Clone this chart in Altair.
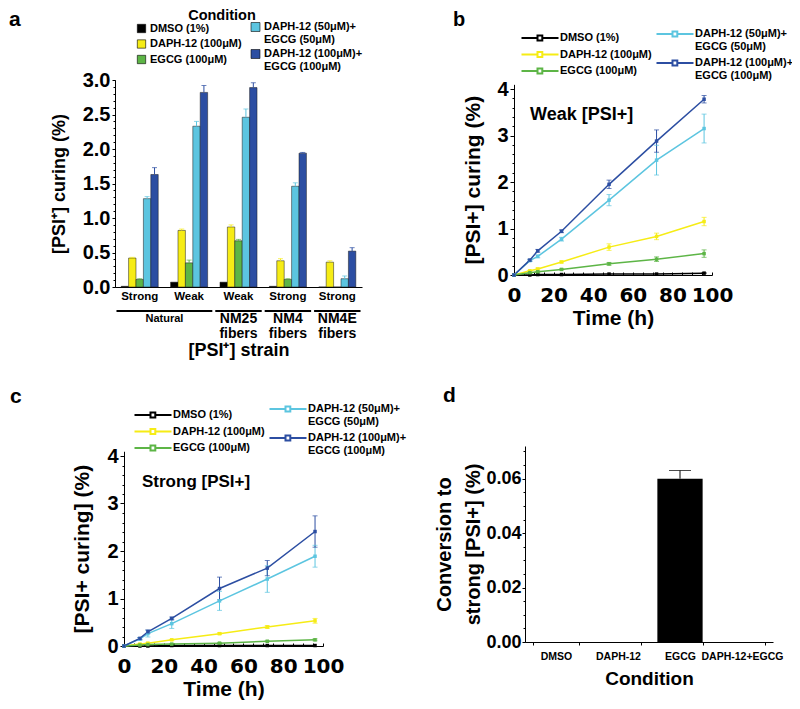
import altair as alt
import pandas as pd

W, H = 784, 688
OX, OY = 8, 13


def px(v):
    return v - OX


def py(v):
    return v - OY


SANS = "Liberation Sans"
WIDE = "DejaVu Sans"

# ---------------- shared conditions ----------------
conds = ["DMSO (1%)", "DAPH-12 (100μM)", "EGCG (100μM)",
         "DAPH-12 (50μM)+\nEGCG (50μM)", "DAPH-12 (100μM)+\n EGCG (100μM)"]
cond_colors = ["#000000", "#f6ec15", "#5db546", "#5cc5e0", "#2c4ea2"]

# ---------------- panel a ----------------
a_groups = ["Natural", "Natural", "NM25\nfibers", "NM4\nfibers", "NM4E\nfibers"]
a_strains = ["Strong", "Weak", "Weak", "Strong", "Strong"]
a_dmso = [0.01, 0.07, 0.07, 0.01, 0.0]
a_daph = [0.42, 0.82, 0.87, 0.38, 0.36]
a_egcg = [0.11, 0.35, 0.67, 0.11, 0.0]
a_mix50 = [1.28, 2.33, 2.46, 1.46, 0.12]
a_mix100 = [1.63, 2.82, 2.89, 1.94, 0.52]
a_dmso_err = [0.0, 0.0, 0.0, 0.0, 0.0]
a_daph_err = [0.01, 0.02, 0.03, 0.03, 0.02]
a_egcg_err = [0.01, 0.04, 0.02, 0.01, 0.0]
a_mix50_err = [0.03, 0.07, 0.12, 0.05, 0.04]
a_mix100_err = [0.10, 0.10, 0.07, 0.01, 0.05]

# ---------------- panels b, c ----------------
times = [0, 8, 12, 24, 48, 72, 96]
b_dmso = [0, 0.0, 0.01, 0.01, 0.02, 0.02, 0.04]
b_daph = [0, 0.09, 0.13, 0.28, 0.60, 0.83, 1.15]
b_egcg = [0, 0.05, 0.07, 0.12, 0.24, 0.34, 0.46]
b_mix50 = [0, 0.31, 0.40, 0.77, 1.61, 2.47, 3.15]
b_mix100 = [0, 0.32, 0.52, 0.94, 1.95, 2.88, 3.78]
b_dmso_err = [0, 0, 0, 0, 0, 0, 0.01]
b_daph_err = [0, 0.01, 0.02, 0.02, 0.07, 0.07, 0.09]
b_egcg_err = [0, 0.01, 0.01, 0.01, 0.03, 0.05, 0.08]
b_mix50_err = [0, 0.02, 0.03, 0.04, 0.12, 0.32, 0.31]
b_mix100_err = [0, 0.02, 0.03, 0.03, 0.09, 0.24, 0.08]

c_dmso = [0, 0.0, 0.0, 0.01, 0.01, 0.01, 0.01]
c_daph = [0, 0.04, 0.06, 0.13, 0.26, 0.40, 0.53]
c_egcg = [0, 0.02, 0.03, 0.04, 0.06, 0.10, 0.13]
c_mix50 = [0, 0.15, 0.26, 0.47, 0.95, 1.41, 1.89]
c_mix100 = [0, 0.16, 0.30, 0.58, 1.21, 1.64, 2.41]
c_dmso_err = [0, 0, 0, 0, 0, 0, 0]
c_daph_err = [0, 0.01, 0.01, 0.01, 0.02, 0.03, 0.05]
c_egcg_err = [0, 0, 0, 0.01, 0.01, 0.01, 0.02]
c_mix50_err = [0, 0.03, 0.07, 0.10, 0.20, 0.28, 0.23]
c_mix100_err = [0, 0.02, 0.04, 0.03, 0.24, 0.16, 0.33]

# ---------------- panel d ----------------
d_conds = ["DMSO", "DAPH-12", "EGCG", "DAPH-12+EGCG"]
d_vals = [0.0, 0.0, 0.060, 0.0]
d_errs = [0.0, 0.0, 0.003, 0.0]

# ================= tables =================
a_keys = [f"{i}|{s}" for i, s in enumerate(a_strains)]
a_series = [a_dmso, a_daph, a_egcg, a_mix50, a_mix100]
a_err_series = [a_dmso_err, a_daph_err, a_egcg_err, a_mix50_err, a_mix100_err]
rows = []
for j, c in enumerate(conds):
    for i, k in enumerate(a_keys):
        rows.append(dict(key=k, cond=c, val=a_series[j][i], err=a_err_series[j][i]))
df_a = pd.DataFrame(rows)
df_a["hi"] = df_a["val"] + df_a["err"]

grp_rows = []
for i, g in enumerate(a_groups):
    if grp_rows and grp_rows[-1]["group"] == g:
        grp_rows[-1]["end"] = i + 1
    else:
        grp_rows.append(dict(group=g, start=i, end=i + 1))
df_g = pd.DataFrame(grp_rows)
df_g["mid"] = (df_g["start"] + df_g["end"]) / 2
df_g["small"] = ["\n" not in g for g in df_g["group"]]


def time_df(series, errs):
    rr = []
    for j, c in enumerate(conds):
        for i, t in enumerate(times):
            rr.append(dict(t=t, cond=c, val=series[j][i], err=errs[j][i]))
    df = pd.DataFrame(rr)
    df["lo"] = df["val"] - df["err"]
    df["hi"] = df["val"] + df["err"]
    return df


df_b = time_df([b_dmso, b_daph, b_egcg, b_mix50, b_mix100],
               [b_dmso_err, b_daph_err, b_egcg_err, b_mix50_err, b_mix100_err])
df_c = time_df([c_dmso, c_daph, c_egcg, c_mix50, c_mix100],
               [c_dmso_err, c_daph_err, c_egcg_err, c_mix50_err, c_mix100_err])

df_d = pd.DataFrame(dict(cond=d_conds, val=d_vals, err=d_errs))
df_d["hi"] = df_d["val"] + df_d["err"]

# ================= panel a =================
A_X = alt.Scale(domain=a_keys, range=[px(115), px(362)], paddingInner=0.25, paddingOuter=0.125)
A_XO = alt.Scale(domain=conds, paddingInner=0, paddingOuter=0)
A_Y = alt.Scale(domain=[0, 3], range=[py(287), py(80)], nice=False)
A_G = alt.Scale(domain=[0, len(a_keys)], range=[px(115), px(362)], nice=False, zero=False)


def colscale():
    return alt.Scale(domain=conds, range=cond_colors)


a_xaxis = alt.Axis(orient="bottom", offset=py(287) - H, labelExpr="split(datum.label, '|')[1]",
                   labelAngle=0, labelFont=SANS, labelFontSize=11.5, labelFontWeight="bold",
                   labelPadding=3, ticks=False, title="[PSI⁺] strain", titleFont=SANS,
                   titleFontSize=18, titleFontWeight="bold", titlePadding=40)
a_yaxis = alt.Axis(orient="left", offset=-px(115), values=[0, 0.5, 1, 1.5, 2, 2.5, 3], format=".1f",
                   labelFont=SANS, labelFontSize=20, labelFontWeight="bold", tickSize=3,
                   labelPadding=2, title="[PSI⁺] curing (%)", titleFont=SANS, titleFontSize=18,
                   titleFontWeight="bold", titlePadding=14)
a_yminor = alt.Axis(orient="left", offset=-px(115), values=[round(0.1 * i, 1) for i in range(31)],
                    labels=False, tickSize=2, domain=False, title=None)

leg_a1 = alt.Legend(orient="none", legendX=px(136), legendY=py(23), title=None, values=conds[:3],
                    symbolType="square", symbolSize=70, symbolStrokeColor="black", symbolStrokeWidth=0.6,
                    labelFont=SANS, labelFontSize=11, labelFontWeight="bold", labelColor="black",
                    labelOffset=3, rowPadding=3.5, padding=0)
leg_a2 = alt.Legend(orient="none", legendX=px(250), legendY=py(21.5), title=None, values=conds[3:],
                    symbolType="square", symbolSize=80, symbolStrokeColor="black", symbolStrokeWidth=0.6,
                    labelFont=SANS, labelFontSize=11, labelFontWeight="bold", labelColor="black",
                    labelOffset=3, rowPadding=2, padding=0, labelExpr="split(datum.label, '\\n')")


def a_bars(sel, legend, xaxis, yaxis):
    return alt.Chart(df_a).transform_filter(
        alt.FieldOneOfPredicate(field="cond", oneOf=sel)
    ).mark_bar(stroke="#1a1a1a", strokeWidth=0.5).encode(
        x=alt.X("key:N", scale=A_X, axis=xaxis),
        xOffset=alt.XOffset("cond:N", scale=A_XO),
        y=alt.Y("val:Q", scale=A_Y, axis=yaxis),
        color=alt.Color("cond:N", scale=colscale(), legend=legend),
    )


a_bar1 = a_bars(conds[:3], leg_a1, a_xaxis, a_yaxis)
a_bar2 = a_bars(conds[3:], leg_a2, None, None)

a_err = alt.Chart(df_a).transform_filter("datum.err > 0").mark_rule(strokeWidth=1).encode(
    x=alt.X("key:N", scale=A_X, axis=None),
    xOffset=alt.XOffset("cond:N", scale=A_XO),
    y=alt.Y("val:Q", scale=A_Y, axis=a_yminor),
    y2="hi:Q",
    color=alt.Color("cond:N", scale=colscale(), legend=None),
)
a_cap = alt.Chart(df_a).transform_filter("datum.err > 0").mark_tick(
    orient="horizontal", thickness=1, size=5).encode(
    x=alt.X("key:N", scale=A_X, axis=None),
    xOffset=alt.XOffset("cond:N", scale=A_XO),
    y=alt.Y("hi:Q", scale=A_Y, axis=None),
    color=alt.Color("cond:N", scale=colscale(), legend=None),
)

a_grule = alt.Chart(df_g).transform_calculate(
    s0="datum.start + 0.03", e0="datum.end - 0.03"
).mark_rule(color="black", strokeWidth=2).encode(
    x=alt.X("s0:Q", scale=A_G, axis=None),
    x2="e0:Q",
    y=alt.value(py(311)),
)
a_gtext_small = alt.Chart(df_g).transform_filter("datum.small").mark_text(
    font=SANS, fontSize=11, fontWeight="bold", color="black", baseline="middle").encode(
    x=alt.X("mid:Q", scale=A_G, axis=None),
    y=alt.value(py(319)),
    text="group:N",
)
a_gtext_big = alt.Chart(df_g).transform_filter("!datum.small").mark_text(
    font=SANS, fontSize=14, fontWeight="bold", color="black", baseline="top",
    lineBreak="\n", lineHeight=14.5).encode(
    x=alt.X("mid:Q", scale=A_G, axis=None),
    y=alt.value(py(312)),
    text="group:N",
)

# ================= panels b, c =================
LINE_SYM = "M-1,0H3M4.2,0H8.25M3,-0.6H4.2V0.6H3Z"


def line_legend(vals, lx, ly, rowpad):
    return alt.Legend(orient="none", legendX=lx, legendY=ly, title=None, values=vals,
                      symbolType=LINE_SYM, symbolSize=64, symbolStrokeWidth=2,
                      labelFont=SANS, labelFontSize=11, labelFontWeight="bold", labelColor="black",
                      labelOffset=29, labelExpr="split(datum.label, '\\n')", rowPadding=rowpad,
                      padding=0)


def time_panel(df, X, Y, axes, leg1, leg2):
    xaxis, yaxis, xminor, yminor = axes
    err = alt.Chart(df).transform_filter("datum.err > 0").mark_rule(strokeWidth=1).encode(
        x=alt.X("t:Q", scale=X, axis=xminor),
        y=alt.Y("lo:Q", scale=Y, axis=yminor),
        y2="hi:Q",
        color=alt.Color("cond:N", scale=colscale(), legend=None),
    )
    caps = alt.Chart(df).transform_filter("datum.err > 0").transform_fold(
        ["lo", "hi"], as_=["end", "v"]
    ).mark_tick(orient="horizontal", thickness=1, size=5).encode(
        x=alt.X("t:Q", scale=X, axis=None),
        y=alt.Y("v:Q", scale=Y, axis=None),
        color=alt.Color("cond:N", scale=colscale(), legend=None),
    )
    line1 = alt.Chart(df).transform_filter(
        alt.FieldOneOfPredicate(field="cond", oneOf=conds[:3])
    ).mark_line(strokeWidth=1.5).encode(
        x=alt.X("t:Q", scale=X, axis=xaxis),
        y=alt.Y("val:Q", scale=Y, axis=yaxis),
        color=alt.Color("cond:N", scale=colscale(), legend=leg1),
    )
    line2 = alt.Chart(df).transform_filter(
        alt.FieldOneOfPredicate(field="cond", oneOf=conds[3:])
    ).mark_line(strokeWidth=1.5).encode(
        x=alt.X("t:Q", scale=X, axis=None),
        y=alt.Y("val:Q", scale=Y, axis=None),
        color=alt.Color("cond:N", scale=colscale(), legend=leg2),
    )
    pts = alt.Chart(df).mark_point(shape="square", filled=True, size=12, opacity=1).encode(
        x=alt.X("t:Q", scale=X, axis=None),
        y=alt.Y("val:Q", scale=Y, axis=None),
        color=alt.Color("cond:N", scale=colscale(), legend=None),
    )
    return [err, caps, line1, line2, pts]


def t_axes(x0, y0, title_y, ytp, xtp):
    xaxis = alt.Axis(orient="bottom", offset=py(y0) - H, values=[0, 20, 40, 60, 80, 100],
                     labelFont=WIDE, labelFontSize=20, labelFontWeight="bold", ticks=False,
                     labelOverlap=False, labelFlush=False, labelBound=False,
                     labelPadding=10, title="Time (h)", titleFont=SANS, titleFontSize=21,
                     titleFontWeight="bold", titlePadding=xtp)
    yaxis = alt.Axis(orient="left", offset=-px(x0), values=[0, 1, 2, 3, 4],
                     labelFont=SANS, labelFontSize=20, labelFontWeight="bold", tickSize=4,
                     labelPadding=2, title=title_y, titleFont=SANS, titleFontSize=21,
                     titleFontWeight="bold", titlePadding=ytp)
    # minor ticks on x point into the plot: a top-oriented axis sitting on the x axis line
    xminor = alt.Axis(orient="top", offset=-py(y0), values=list(range(0, 101, 5)),
                      labels=False, tickSize=3, domain=False, title=None)
    yminor = alt.Axis(orient="left", offset=-px(x0), values=[round(0.2 * i, 1) for i in range(21)],
                      labels=False, tickSize=2, domain=False, title=None)
    return xaxis, yaxis, xminor, yminor


B_X = alt.Scale(domain=[0, 100], range=[px(514), px(712)], nice=False)
B_Y = alt.Scale(domain=[0, 4.1], range=[py(275), py(275 - 4.1 * 46.5)], nice=False)
b_layers = time_panel(df_b, B_X, B_Y, t_axes(514, 275, "[PSI+] curing (%)", 13, 2),
                      line_legend(conds[:3], px(520), py(32.5), 3.5),
                      line_legend(conds[3:], px(655), py(28.5), 4))

C_X = alt.Scale(domain=[0, 100], range=[px(124), px(323)], nice=False)
C_Y = alt.Scale(domain=[0, 4.1], range=[py(646), py(646 - 4.1 * 47.5)], nice=False)
c_layers = time_panel(df_c, C_X, C_Y, t_axes(124, 646, "[PSI+ curing] (%)", 14, 2),
                      line_legend(conds[:3], px(133), py(409.5), 3.5),
                      line_legend(conds[3:], px(268), py(403.5), 4))

# ================= panel d =================
D_X = alt.Scale(domain=d_conds, range=[px(525), px(773)], paddingInner=0.27, paddingOuter=0.135)
D_Y = alt.Scale(domain=[0, 0.072], range=[py(642), py(446)], nice=False)
d_xaxis = alt.Axis(orient="bottom", offset=py(642) - H, labelFont=SANS, labelFontSize=10.5,
                   labelFontWeight="bold", labelAngle=0, labelPadding=6, tickSize=3, tickBand="extent",
                   title="Condition", titleFont=SANS, titleFontSize=19, titleFontWeight="bold",
                   titlePadding=8)
d_yaxis = alt.Axis(orient="left", offset=-px(525), values=[0, 0.02, 0.04, 0.06], format=".2f",
                   labelFont=SANS, labelFontSize=18, labelFontWeight="bold", tickSize=3,
                   labelPadding=1, title=["Conversion to", "strong [PSI+] (%)"], titleFont=SANS,
                   titleFontSize=20, titleFontWeight="bold", titleLineHeight=29, titlePadding=2)
d_yminor = alt.Axis(orient="left", offset=-px(525), values=[round(0.005 * i, 3) for i in range(15)],
                    labels=False, tickSize=2, domain=False, title=None)

d_bar = alt.Chart(df_d).mark_bar(color="black").encode(
    x=alt.X("cond:N", scale=D_X, axis=d_xaxis),
    y=alt.Y("val:Q", scale=D_Y, axis=d_yaxis),
)
d_err = alt.Chart(df_d).transform_filter("datum.err > 0").mark_rule(color="black", strokeWidth=1).encode(
    x=alt.X("cond:N", scale=D_X, axis=None),
    y=alt.Y("val:Q", scale=D_Y, axis=d_yminor),
    y2="hi:Q",
)
d_cap = alt.Chart(df_d).transform_filter("datum.err > 0").mark_tick(
    orient="horizontal", color="black", thickness=1, size=22).encode(
    x=alt.X("cond:N", scale=D_X, axis=None),
    y=alt.Y("hi:Q", scale=D_Y, axis=None),
)


# ================= text labels =================
def label(text, x, y, size, align="left", baseline="alphabetic"):
    return alt.Chart(alt.Data(values=[{}])).mark_text(
        text=text, font=SANS, fontSize=size, fontWeight="bold", align=align,
        baseline=baseline, color="black").encode(x=alt.value(px(x)), y=alt.value(py(y)))


texts = [
    label("a", 9, 26, 21), label("b", 453, 26, 20),
    label("c", 10, 403, 21), label("d", 443, 402, 21),
    label("Condition", 222, 16, 14.5, align="center", baseline="middle"),
    label("Weak [PSI+]", 530, 115, 18, baseline="middle"),
    label("Strong [PSI+]", 142, 482, 17, baseline="middle"),
]

layers = [a_bar1, a_bar2, a_err, a_cap, a_grule, a_gtext_small, a_gtext_big] + b_layers + c_layers + [
    d_bar, d_err, d_cap] + texts

chart = alt.layer(*layers).resolve_scale(
    x="independent", y="independent", color="independent", xOffset="independent"
).resolve_axis(x="independent", y="independent").resolve_legend(color="independent").properties(
    width=W, height=H,
    autosize=alt.AutoSizeParams(type="none"),
    padding={"left": 0, "top": 5, "right": 0, "bottom": 0},
    background="white",
).configure_view(strokeWidth=0).configure_axis(
    grid=False, domainColor="black", tickColor="black", labelColor="black", titleColor="black"
)

chart.save("out.html", embed_options={"renderer": "svg", "actions": False})
